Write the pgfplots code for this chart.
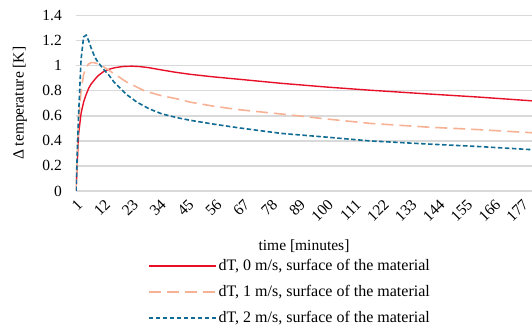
\documentclass[border=0pt]{standalone}
\usepackage{fontspec}
\setmainfont{Liberation Serif}
\usepackage{pgfplots}
\pgfplotsset{compat=1.18}
\usetikzlibrary{calc}
\definecolor{cred}{RGB}{232,16,40}
\definecolor{corange}{RGB}{247,178,150}
\definecolor{cblue}{RGB}{16,108,148}
\definecolor{cgrid}{RGB}{217,217,217}
\newcommand{\fs}{\fontsize{15.5pt}{18pt}\selectfont}
\newcommand{\fl}{\fontsize{16pt}{18pt}\selectfont}
\begin{document}
\begin{tikzpicture}
\fs
\begin{axis}[
  name=ax,
  scale only axis,
  width=456pt, height=175.3pt,
  xmin=1, xmax=181, ymin=0, ymax=1.4,
  xtick={1,12,...,177},
  ytick={0,0.2,...,1.4},
  yticklabels={0,0.2,0.4,0.6,0.8,1,1.2,1.4},
  /pgf/number format/assume math mode=true,
  ymajorgrids, major grid style={draw=cgrid, line width=1.3pt},
  axis line style={draw=none},
  tick style={draw=none},
  tick label style={font=\fs},
  xticklabel style={rotate=45, anchor=north east, inner sep=1pt},
  xticklabel shift=6pt,
  yticklabel style={anchor=east, inner sep=1pt},
  yticklabel shift=13pt,
  xlabel={time [minutes]},
  xlabel style={at={(axis description cs:0.5,0)}, anchor=center, yshift=-55pt, font=\fs},
  ylabel={Δ temperature [K]},
  ylabel style={at={(axis description cs:-0.1228,0.5)}, anchor=center, rotate=0, font=\fs},
  legend style={at={(axis description cs:0.151,-0.365)}, anchor=north west, draw=none, fill=none,
    font=\fl, row sep=8.5pt,
    nodes={inner sep=2pt}},
  legend cell align=left,
  legend image code/.code={\draw[#1] (0pt,0pt) -- (67pt,0pt);},
  clip=true,
]
\addplot[cred, line width=1.4pt] coordinates {
(1,0) (2,0.45) (3,0.62) (4,0.71) (5,0.77) (6,0.82) (7,0.855) (8,0.88) (9,0.905) (10,0.925)
(12,0.955) (14,0.972) (16,0.983) (18,0.99) (20,0.995) (23,0.997) (26,0.994) (30,0.984)
(35,0.966) (40,0.949) (46,0.932) (55,0.912) (65,0.893) (82,0.860) (100,0.83) (117,0.805)
(140,0.775) (160,0.75) (181,0.72)
};
\addlegendentry{dT, 0 m/s, surface of the material}
\addplot[corange, line width=1.6pt, dash pattern=on 12pt off 6pt] coordinates {
(1,0) (2,0.55) (3,0.8) (4,0.93) (5,0.99) (6,1.015) (7,1.025) (8,1.025) (9,1.02) (10,1.01)
(12,0.99) (14,0.965) (16,0.935) (18,0.91) (21,0.87) (24,0.84) (28,0.80) (34,0.765)
(41,0.735) (46,0.71) (55,0.678) (65,0.65) (82,0.615) (100,0.575) (117,0.54) (140,0.51)
(160,0.49) (181,0.465)
};
\addlegendentry{dT, 1 m/s, surface of the material}
\addplot[cblue, line width=1.6pt, dash pattern=on 4.5pt off 2.5pt] coordinates {
(1,0) (2,0.6) (3,1.05) (4,1.23) (5,1.245) (6,1.2) (7,1.14) (8,1.09) (9,1.05) (10,1.02)
(12,0.97) (14,0.925) (16,0.87) (18,0.83) (21,0.77) (25,0.71) (30,0.655) (35,0.615)
(41,0.585) (46,0.565) (55,0.535) (65,0.505) (82,0.46) (100,0.43) (117,0.40) (140,0.375)
(160,0.355) (181,0.33)
};
\addlegendentry{dT, 2 m/s, surface of the material}
\end{axis}
\pgfresetboundingbox
\path ($(ax.south west)+(-76pt,-134pt)$) rectangle ($(ax.north east)+(0pt,15.7pt)$);
\end{tikzpicture}
\end{document}
